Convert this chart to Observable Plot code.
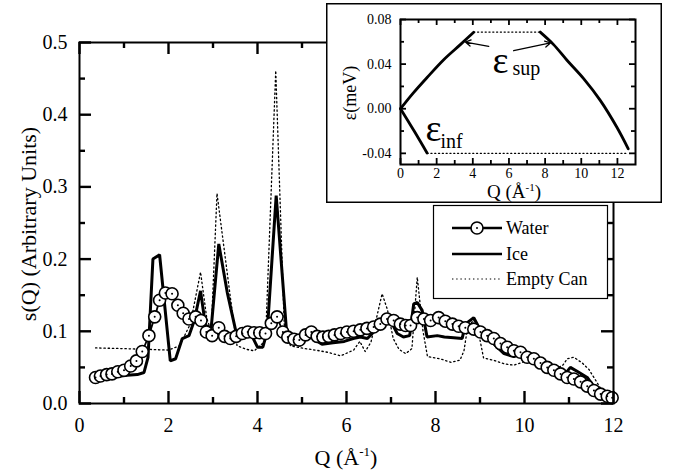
<!DOCTYPE html>
<html><head><meta charset="utf-8">
<script src="https://cdn.jsdelivr.net/npm/d3@7"></script>
<script src="https://cdn.jsdelivr.net/npm/@observablehq/plot@0.6"></script>
<style>
body{margin:0;background:#fff;}
#wrap{position:relative;width:677px;height:472px;overflow:hidden;}
#inset{position:absolute;left:326px;top:3px;}
svg text{font-family:"Liberation Serif","Tinos","Times New Roman","DejaVu Serif",serif !important;}
</style></head><body><div id="wrap"><div id="main"></div><div id="inset"></div></div>
<script>
// ---------- main chart data: [Q (Å^-1), s(Q)] ----------
const water = [[0.36,0.036],[0.47,0.038],[0.61,0.040],[0.73,0.041],[0.86,0.044],[1.0,0.046],[1.15,0.052],[1.28,0.059],[1.41,0.072],[1.56,0.094],[1.69,0.120],[1.80,0.143],[1.93,0.153],[2.08,0.152],[2.21,0.136],[2.33,0.125],[2.46,0.117],[2.61,0.120],[2.73,0.115],[2.85,0.099],[2.98,0.094],[3.13,0.105],[3.26,0.093],[3.39,0.090],[3.52,0.093],[3.66,0.097],[3.78,0.099],[3.92,0.098],[4.05,0.098],[4.18,0.097],[4.31,0.111],[4.44,0.120],[4.57,0.099],[4.68,0.092],[4.82,0.089],[4.94,0.088],[5.08,0.095],[5.21,0.099],[5.34,0.093],[5.47,0.092],[5.60,0.093],[5.73,0.095],[5.87,0.097],[6.01,0.099],[6.16,0.100],[6.31,0.102],[6.46,0.104],[6.61,0.106],[6.76,0.110],[6.91,0.117],[7.06,0.115],[7.21,0.110],[7.33,0.108],[7.44,0.108],[7.59,0.119],[7.74,0.117],[7.89,0.115],[8.07,0.119],[8.22,0.114],[8.38,0.110],[8.52,0.107],[8.67,0.105],[8.86,0.103],[9.01,0.099],[9.16,0.094],[9.31,0.090],[9.46,0.083],[9.61,0.078],[9.76,0.073],[9.91,0.071],[10.06,0.064],[10.21,0.062],[10.36,0.056],[10.51,0.050],[10.66,0.046],[10.81,0.041],[10.96,0.036],[11.11,0.034],[11.26,0.030],[11.41,0.024],[11.56,0.018],[11.71,0.013],[11.86,0.010],[11.97,0.008]];
const ice = [[0.36,0.034],[0.6,0.036],[0.8,0.037],[1.07,0.039],[1.3,0.040],[1.45,0.043],[1.54,0.064],[1.65,0.200],[1.80,0.206],[2.04,0.059],[2.16,0.062],[2.31,0.090],[2.46,0.094],[2.58,0.115],[2.72,0.156],[2.83,0.108],[2.96,0.105],[3.13,0.221],[3.32,0.154],[3.51,0.101],[3.70,0.094],[3.88,0.093],[4.00,0.078],[4.12,0.078],[4.22,0.100],[4.42,0.288],[4.66,0.094],[4.80,0.088],[4.95,0.080],[5.10,0.093],[5.22,0.095],[5.35,0.086],[5.45,0.082],[5.70,0.084],[5.95,0.086],[6.15,0.090],[6.31,0.092],[6.47,0.090],[6.61,0.099],[6.80,0.115],[6.90,0.120],[7.03,0.110],[7.14,0.097],[7.28,0.092],[7.42,0.094],[7.51,0.138],[7.59,0.140],[7.70,0.129],[7.81,0.092],[8.04,0.094],[8.20,0.092],[8.41,0.091],[8.60,0.090],[8.67,0.110],[8.86,0.119],[8.97,0.106],[9.15,0.093],[9.35,0.080],[9.54,0.069],[9.76,0.065],[9.91,0.068],[10.10,0.062],[10.40,0.054],[10.70,0.045],[10.90,0.040],[11.03,0.050],[11.20,0.044],[11.41,0.036],[11.60,0.020],[11.80,0.012],[12.0,0.008]];
const emptyCan = [[0.36,0.077],[1.0,0.076],[1.5,0.075],[2.0,0.074],[2.25,0.080],[2.49,0.110],[2.72,0.182],[2.86,0.118],[2.96,0.100],[3.09,0.291],[3.39,0.147],[3.54,0.080],[3.75,0.075],[3.93,0.073],[4.18,0.087],[4.41,0.461],[4.60,0.110],[4.74,0.080],[4.97,0.077],[5.30,0.074],[5.57,0.071],[5.87,0.066],[6.16,0.074],[6.30,0.086],[6.42,0.072],[6.55,0.085],[6.68,0.120],[6.80,0.152],[6.92,0.130],[7.05,0.090],[7.18,0.075],[7.33,0.069],[7.47,0.076],[7.59,0.175],[7.72,0.100],[7.82,0.065],[8.10,0.062],[8.35,0.057],[8.55,0.060],[8.64,0.073],[8.72,0.105],[8.86,0.116],[9.00,0.088],[9.08,0.063],[9.30,0.060],[9.54,0.055],[9.76,0.053],[10.0,0.058],[10.3,0.054],[10.6,0.048],[10.85,0.052],[10.96,0.062],[11.11,0.064],[11.30,0.056],[11.45,0.047],[11.7,0.022],[12.0,0.008]];
const mainXMajor = [0,2,4,6,8,10,12];
const mainXMinor = [1,3,5,7,9,11];
const mainYMajor = [0,0.1,0.2,0.3,0.4,0.5];
const mainYMinor = [0.05,0.15,0.25,0.35,0.45];
const legendLabels = ["Water","Ice","Empty Can"];

// ---------- inset data: [Q (Å^-1), ε (meV)] ----------
const supLeft = [[0,0],[0.7,0.014],[1.47,0.028],[2.39,0.044],[3.31,0.0575],[4.05,0.0685]];
const supRight = [[7.73,0.0687],[8.47,0.0575],[9.21,0.0435],[10.13,0.027],[11.05,0.0075],[11.97,-0.0166],[12.6,-0.0359]];
const infCurve = [[0,0],[0.74,-0.0196],[1.47,-0.0397]];
const supLimit = [[4.05,0.0687],[7.73,0.0687]];
const infLimit = [[1.47,-0.040],[12.6,-0.040]];
const arrows = [[4.88,0.056,3.59,0.0598],[6.26,0.052,8.29,0.059]];
const insetXMajor = [0,2,4,6,8,10,12];
const insetXMinor = [1,3,5,7,9,11];
const insetYMajor = [-0.04,0,0.04,0.08];
const insetYMinor = [-0.02,0.02,0.06];

const serif = "Liberation Serif, Tinos, Times New Roman, DejaVu Serif, serif";
const X = d => d[0], Y = d => d[1];

// inward ticks on all four sides: rules through the plot's own scales, pixel length via inset
function tickRules(xMaj, xMin, yMaj, yMin, maj, min, sw, H, W) {
  const o = {stroke: "black", strokeWidth: sw};
  return [
    Plot.ruleX(xMaj, {...o, x: d => d, insetTop: H - maj}),
    Plot.ruleX(xMaj, {...o, x: d => d, insetBottom: H - maj}),
    Plot.ruleX(xMin, {...o, x: d => d, insetTop: H - min}),
    Plot.ruleX(xMin, {...o, x: d => d, insetBottom: H - min}),
    Plot.ruleY(yMaj, {...o, y: d => d, insetRight: W - maj}),
    Plot.ruleY(yMaj, {...o, y: d => d, insetLeft: W - maj}),
    Plot.ruleY(yMin, {...o, y: d => d, insetRight: W - min}),
    Plot.ruleY(yMin, {...o, y: d => d, insetLeft: W - min})
  ];
}

const main = Plot.plot({
  width: 677, height: 472,
  marginLeft: 79, marginRight: 64, marginTop: 42, marginBottom: 69,
  style: {fontFamily: serif, background: "white", color: "black"},
  x: {domain: [0, 12]},
  y: {domain: [0, 0.5]},
  marks: [
    Plot.line(emptyCan, {x: X, y: Y, stroke: "black", strokeWidth: 1.3, strokeDasharray: "1.4,2.8"}),
    Plot.line(ice, {x: X, y: Y, stroke: "black", strokeWidth: 3, strokeLinejoin: "miter"}),
    Plot.line(water, {x: X, y: Y, stroke: "black", strokeWidth: 1.8}),
    Plot.dot(water, {x: X, y: Y, r: 6, fill: "white", stroke: "black", strokeWidth: 1.6}),
    Plot.dot(water, {x: X, y: Y, r: 1, fill: "black"}),
    Plot.frame({stroke: "black", strokeWidth: 2}),
    ...tickRules(mainXMajor, mainXMinor, mainYMajor, mainYMinor, 12, 6, 2.4, 472 - 42 - 69, 677 - 79 - 64),
    Plot.axisX(mainXMajor, {anchor: "bottom", tickSize: 0, tickPadding: 14, fontSize: 20, label: null, fill: "black"}),
    Plot.axisY(mainYMajor, {anchor: "left", tickSize: 0, tickPadding: 12, fontSize: 20, label: null, fill: "black", tickFormat: d => d.toFixed(1)})
  ]
});
document.getElementById("main").appendChild(main);

const sm = d3.select(main);
// axis titles
const tx = sm.append("text").attr("x", 346).attr("y", 465).attr("text-anchor", "middle")
  .attr("font-size", 22).attr("fill", "black");
tx.append("tspan").text("Q (Å");
tx.append("tspan").attr("dy", -9).attr("font-size", 13).text("-1");
tx.append("tspan").attr("dy", 9).text(")");
sm.append("text").attr("transform", "rotate(-90)").attr("x", -224).attr("y", 36)
  .attr("text-anchor", "middle").attr("font-size", 22).attr("fill", "black")
  .text("s(Q) (Arbitrary Units)");
// legend
const lg = sm.append("g").attr("font-size", 18).attr("text-anchor", "start");
lg.append("rect").attr("x", 433.5).attr("y", 205.5).attr("width", 174).attr("height", 93)
  .attr("fill", "white").attr("stroke", "black").attr("stroke-width", 1.2);
const rowsY = [228, 254, 279];
const styles = [{w: 2.5, d: null}, {w: 2.5, d: null}, {w: 1.2, d: "1.4,2.8"}];
legendLabels.forEach((lab, i) => {
  const l = lg.append("line").attr("x1", 452).attr("x2", 502).attr("y1", rowsY[i]).attr("y2", rowsY[i])
    .attr("stroke", "black").attr("stroke-width", styles[i].w);
  if (styles[i].d) l.attr("stroke-dasharray", styles[i].d);
  if (i === 0) {
    lg.append("circle").attr("cx", 477).attr("cy", rowsY[i]).attr("r", 6).attr("fill", "white").attr("stroke", "black").attr("stroke-width", 1.6);
    lg.append("circle").attr("cx", 477).attr("cy", rowsY[i]).attr("r", 1).attr("fill", "black");
  }
  lg.append("text").attr("x", 506).attr("y", rowsY[i] + 6).attr("text-anchor", "start").attr("fill", "black").text(lab);
});

// ---------- inset ----------
const dotted = {x: X, y: Y, stroke: "black", strokeWidth: 1.2, strokeDasharray: "1.2,2.6"};
const solid = {x: X, y: Y, stroke: "black", strokeWidth: 2.8, curve: "catmull-rom"};
const inset = Plot.plot({
  width: 336, height: 200,
  marginLeft: 74, marginRight: 27, marginTop: 16, marginBottom: 39,
  style: {fontFamily: serif, background: "white", color: "black"},
  x: {domain: [0, 13]},
  y: {domain: [-0.05, 0.08]},
  marks: [
    Plot.line(supLimit, dotted),
    Plot.line(infLimit, dotted),
    Plot.line(supLeft, solid),
    Plot.line(supRight, solid),
    Plot.line(infCurve, solid),
    Plot.arrow(arrows, {x1: d => d[0], y1: d => d[1], x2: d => d[2], y2: d => d[3], stroke: "black", strokeWidth: 1.3, headLength: 7}),
    Plot.text([["ε", 5.09, 0.032], ["ε", 1.38, -0.0293]], {text: d => d[0], x: d => d[1], y: d => d[2], fontSize: 38, textAnchor: "start", lineAnchor: "bottom", fill: "black"}),
    Plot.text([["sup", 6.19, 0.0300], ["inf", 2.21, -0.0356]], {text: d => d[0], x: d => d[1], y: d => d[2], fontSize: 20, textAnchor: "start", lineAnchor: "bottom", fill: "black"}),
    Plot.frame({stroke: "black", strokeWidth: 2}),
    ...tickRules(insetXMajor, insetXMinor, insetYMajor, insetYMinor, 6, 4, 1.8, 200 - 16 - 39, 336 - 74 - 27),
    Plot.axisX(insetXMajor, {anchor: "bottom", tickSize: 0, tickPadding: 4, fontSize: 14, label: null, fill: "black"}),
    Plot.axisY(insetYMajor, {anchor: "left", tickSize: 0, tickPadding: 9, fontSize: 14, label: null, fill: "black", tickFormat: d => d.toFixed(2)})
  ]
});
document.getElementById("inset").appendChild(inset);
const si = d3.select(inset);
si.append("rect").attr("x", 0.75).attr("y", 0.75).attr("width", 334.5).attr("height", 198.5)
  .attr("fill", "none").attr("stroke", "black").attr("stroke-width", 1.5);
const ix = si.append("text").attr("x", 188).attr("y", 195).attr("text-anchor", "middle")
  .attr("font-size", 19).attr("fill", "black");
ix.append("tspan").text("Q (Å");
ix.append("tspan").attr("dy", -7).attr("font-size", 11).text("-1");
ix.append("tspan").attr("dy", 7).text(")");
si.append("text").attr("transform", "rotate(-90)").attr("x", -90).attr("y", 30)
  .attr("text-anchor", "middle").attr("font-size", 18).attr("fill", "black")
  .text("ε(meV)");
</script>
</body></html>
